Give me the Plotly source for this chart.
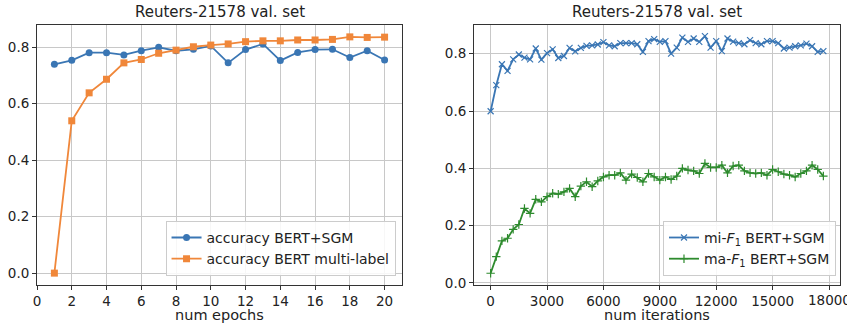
import plotly.graph_objects as go

epochs = list(range(1, 21))
acc_sgm = [0.739, 0.753, 0.780, 0.780, 0.772, 0.787, 0.799, 0.787, 0.792, 0.804,
           0.744, 0.791, 0.811, 0.752, 0.781, 0.791, 0.792, 0.763, 0.787, 0.754]
acc_ml = [0.000, 0.539, 0.638, 0.686, 0.744, 0.756, 0.778, 0.789, 0.801, 0.807,
          0.811, 0.819, 0.822, 0.822, 0.825, 0.825, 0.827, 0.836, 0.834, 0.835]

iterations = list(range(0, 18000, 300))
mi_f1 = [0.599, 0.690, 0.763, 0.740, 0.780, 0.797, 0.786, 0.780, 0.818, 0.779,
         0.802, 0.815, 0.785, 0.792, 0.820, 0.808, 0.820, 0.827, 0.829, 0.832,
         0.840, 0.829, 0.826, 0.837, 0.837, 0.837, 0.833, 0.806, 0.844, 0.851,
         0.841, 0.844, 0.800, 0.821, 0.856, 0.841, 0.853, 0.841, 0.861, 0.821,
         0.844, 0.809, 0.853, 0.842, 0.837, 0.833, 0.847, 0.837, 0.833, 0.844,
         0.844, 0.837, 0.818, 0.821, 0.826, 0.829, 0.835, 0.826, 0.806, 0.809]
ma_f1 = [0.034, 0.092, 0.147, 0.156, 0.187, 0.204, 0.260, 0.243, 0.292, 0.283,
         0.301, 0.313, 0.310, 0.318, 0.330, 0.301, 0.338, 0.353, 0.336, 0.356,
         0.370, 0.376, 0.376, 0.384, 0.359, 0.380, 0.368, 0.353, 0.382, 0.370,
         0.359, 0.370, 0.361, 0.373, 0.400, 0.394, 0.391, 0.382, 0.417, 0.403,
         0.403, 0.411, 0.384, 0.408, 0.411, 0.391, 0.384, 0.382, 0.384, 0.376,
         0.396, 0.388, 0.380, 0.376, 0.370, 0.382, 0.391, 0.411, 0.396, 0.373]

x1_ticks = list(range(0, 21, 2))
x2_ticks = list(range(0, 18001, 3000))
y_ticks = [0, 0.2, 0.4, 0.6, 0.8]
y_ticklabels = ["0.0", "0.2", "0.4", "0.6", "0.8"]

BLUE = "#3a76b4"
ORANGE = "#f0873a"
GREEN = "#2e8b2e"
FONT = "DejaVu Sans"

fig = go.Figure()
fig.add_trace(go.Scatter(x=epochs, y=acc_sgm, mode="lines+markers", name="accuracy BERT+SGM",
                         line=dict(color=BLUE, width=1.8),
                         marker=dict(symbol="circle", size=7, color=BLUE),
                         xaxis="x", yaxis="y", legend="legend"))
fig.add_trace(go.Scatter(x=epochs, y=acc_ml, mode="lines+markers", name="accuracy BERT multi-label",
                         line=dict(color=ORANGE, width=1.8),
                         marker=dict(symbol="square", size=7, color=ORANGE),
                         xaxis="x", yaxis="y", legend="legend"))
fig.add_trace(go.Scatter(x=iterations, y=mi_f1, mode="lines+markers", name="mi-<i>F</i><sub>1</sub> BERT+SGM",
                         line=dict(color=BLUE, width=1.8),
                         marker=dict(symbol="x-thin", size=6, color=BLUE, line=dict(color=BLUE, width=1.2)),
                         xaxis="x2", yaxis="y2", legend="legend2"))
fig.add_trace(go.Scatter(x=iterations, y=ma_f1, mode="lines+markers", name="ma-<i>F</i><sub>1</sub> BERT+SGM",
                         line=dict(color=GREEN, width=1.8),
                         marker=dict(symbol="cross-thin", size=6, color=GREEN, line=dict(color=GREEN, width=1.2)),
                         xaxis="x2", yaxis="y2", legend="legend2"))

axis_common = dict(showline=True, linecolor="#333333", linewidth=1, mirror=True,
                   showgrid=True, gridcolor="#c8c8c8", gridwidth=1,
                   ticks="outside", ticklen=4, tickcolor="#333333", automargin=False,
                   zeroline=False, tickfont=dict(size=13.5, color="#222222", family=FONT))

x2_shown = x2_ticks[:-1]

fig.update_layout(
    width=847, height=324,
    margin=dict(l=37, r=7, t=25, b=39),
    paper_bgcolor="white", plot_bgcolor="white",
    font=dict(family=FONT, color="#222222"),
    xaxis=dict(domain=[0, 0.4545], range=[0, 21], tickmode="array",
               tickvals=x1_ticks, ticktext=[str(v) for v in x1_ticks], **axis_common),
    yaxis=dict(domain=[0, 1], range=[-0.042, 0.878], tickmode="array",
               tickvals=y_ticks, ticktext=y_ticklabels, anchor="x", **axis_common),
    xaxis2=dict(domain=[0.5442, 1], range=[-885, 18585], tickmode="array",
                tickvals=x2_ticks, ticktext=[str(v) for v in x2_shown] + [""], anchor="y2", **axis_common),
    yaxis2=dict(domain=[0, 1], range=[-0.007, 0.9], tickmode="array",
                tickvals=y_ticks, ticktext=y_ticklabels, anchor="x2", **axis_common),
    legend=dict(x=0.4545 - 0.008, y=0.035, xref="paper", yref="paper", xanchor="right", yanchor="bottom",
                bgcolor="rgba(255,255,255,0.85)", bordercolor="#cccccc", borderwidth=1,
                font=dict(size=14), tracegroupgap=0, itemwidth=30),
    legend2=dict(x=0.995, y=0.035, xref="paper", yref="paper", xanchor="right", yanchor="bottom",
                 bgcolor="rgba(255,255,255,0.85)", bordercolor="#cccccc", borderwidth=1,
                 font=dict(size=14), tracegroupgap=0, itemwidth=30),
    annotations=[
        dict(text="Reuters-21578 val. set", x=0.2273, y=1.0, xref="paper", yref="paper",
             xanchor="center", yanchor="bottom", yshift=2, showarrow=False, font=dict(size=15)),
        dict(text="Reuters-21578 val. set", x=0.7721, y=1.0, xref="paper", yref="paper",
             xanchor="center", yanchor="bottom", yshift=2, showarrow=False, font=dict(size=15)),
        dict(text="num epochs", x=0.2273, y=0, xref="paper", yref="paper",
             xanchor="center", yanchor="top", yshift=-20, showarrow=False, font=dict(size=14.5)),
        dict(text="num iterations", x=0.7721, y=0, xref="paper", yref="paper",
             xanchor="center", yanchor="top", yshift=-20, showarrow=False, font=dict(size=14.5)),
        dict(text=str(x2_ticks[-1]), x=x2_ticks[-1], y=0, xref="x2", yref="paper",
             xanchor="center", yanchor="top", yshift=-5, showarrow=False,
             font=dict(size=13.5, color="#222222")),
    ],
)

fig.write_html("out.html", config={"displayModeBar": False},
               post_script="document.body.style.margin='0px';")
